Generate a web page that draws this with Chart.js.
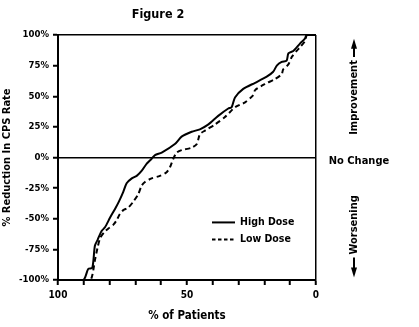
<!DOCTYPE html>
<html>
<head>
<meta charset="utf-8">
<script src="https://cdn.jsdelivr.net/npm/chart.js@4/dist/chart.umd.min.js"></script>
<style>
  html, body { margin: 0; padding: 0; background: #fff; }
  canvas { display: block; }
</style>
</head>
<body>
<canvas id="figure-chart" width="419" height="327"></canvas>
<script>
const chartTitle = 'Figure 2';
const xLabels = [100, 50, 0];
const seriesNames = ['High Dose', 'Low Dose'];

// % of patients (x) and % reduction in CPS rate (y)
const highDoseX = [100, 90.2, 88.3, 86.7, 85.7, 84.6, 83.1, 81.8, 79.8, 77.9, 76.4, 74.7, 73.4, 71.4, 69.5, 67.6, 65.6, 63.7, 62.4, 59.8, 54.7, 52.1, 48.2, 45, 41.7, 37.9, 34, 32.7, 31.4, 28.2, 23.6, 19.1, 16.6, 15.2, 13.3, 11.4, 10.7, 8.8, 6.2, 4.3, 3.6, 0];
const highDoseY = [-100, -100, -91, -90, -72, -67, -60, -57, -49, -42, -36, -28, -21, -17, -15, -11, -5, -1, 2, 4, 11, 17, 21, 23, 27, 34, 40, 41, 49, 56, 61, 66, 70, 75, 78, 79, 85, 87, 93, 97, 100, 100];
const lowDoseX = [100, 87.6, 86.7, 85.7, 84.6, 83.7, 82.1, 80.5, 78.6, 77.2, 76, 74.7, 72.8, 70.8, 68.9, 67.6, 66.3, 63.7, 60.5, 57.9, 56.6, 55.3, 54, 52.1, 48.2, 46.2, 45, 43, 39.1, 35.3, 31.4, 27.5, 24.3, 23.6, 19.8, 15.9, 13.3, 12.7, 10.7, 9.4, 7.5, 6.2, 4.3, 3.5, 0];
const lowDoseY = [-100, -100, -96, -84, -73, -66, -61, -58, -55, -51, -46, -43, -41, -36, -30, -23, -20, -17, -15, -12, -8, -1, 4, 6, 8, 11, 19, 22, 27, 33, 41, 45, 51, 55, 60, 64, 68, 72, 76, 82, 87, 90, 95, 100, 100];

const FONT = "'DejaVu Sans Condensed', 'Liberation Sans', sans-serif";
Chart.defaults.font.family = FONT;
Chart.defaults.font.weight = 'bold';
Chart.defaults.color = '#000';

function toPoints(xs, ys) {
    return xs.map((x, i) => ({ x: x, y: ys[i] }));
}

function arrow(ctx, x, y1, y2) {
    const dir = y2 < y1 ? -1 : 1;
    ctx.beginPath();
    ctx.moveTo(x, y1);
    ctx.lineTo(x, y2 - dir * 6);
    ctx.stroke();
    ctx.beginPath();
    ctx.moveTo(x, y2);
    ctx.lineTo(x - 3, y2 - dir * 10);
    ctx.lineTo(x + 3, y2 - dir * 10);
    ctx.closePath();
    ctx.fill();
}

function verticalText(ctx, text, x, y) {
    ctx.save();
    ctx.translate(x, y);
    ctx.rotate(-Math.PI / 2);
    ctx.fillText(text, 0, 0);
    ctx.restore();
    return ctx.measureText(text).width;
}

// legend inside the plot and the notes at the right
const annotations = {
    id: 'annotations',
    afterDraw(chart) {
        const ctx = chart.ctx;
        const area = chart.chartArea;
        const y = chart.scales.y;
        ctx.save();
        ctx.fillStyle = '#000';
        ctx.strokeStyle = '#000';

        // legend
        const lx = area.left + 154;
        chart.data.datasets.forEach((ds, i) => {
            const ly = y.getPixelForValue(-53) + i * 17;
            ctx.lineWidth = 2;
            ctx.setLineDash(ds.label === seriesNames[1] ? [3.5, 2.5] : []);
            ctx.beginPath();
            ctx.moveTo(lx, ly);
            ctx.lineTo(lx + 23, ly);
            ctx.stroke();
            ctx.setLineDash([]);
            ctx.font = 'bold 10.5px ' + FONT;
            ctx.textAlign = 'left';
            ctx.textBaseline = 'middle';
            ctx.fillText(ds.label, lx + 28, ly);
        });

        // right side notes
        const cx = area.right + 38;
        const y0 = y.getPixelForValue(0);
        ctx.font = 'bold 11px ' + FONT;
        ctx.textAlign = 'center';
        ctx.textBaseline = 'middle';
        ctx.fillText('No Change', cx + 5, y0 + 4);

        ctx.lineWidth = 2;
        const upY = y.getPixelForValue(49);
        const upW = verticalText(ctx, 'Improvement', cx, upY);
        arrow(ctx, cx, upY - upW / 2 - 3, y.getPixelForValue(97));

        const downY = y.getPixelForValue(-55);
        const downW = verticalText(ctx, 'Worsening', cx, downY);
        arrow(ctx, cx, downY + downW / 2 + 3, y.getPixelForValue(-98));
        ctx.restore();
    }
};

new Chart(document.getElementById('figure-chart'), {
    type: 'line',
    data: {
        datasets: [
            {
                label: seriesNames[0],
                data: toPoints(highDoseX, highDoseY),
                borderColor: '#000',
                borderWidth: 2,
                pointRadius: 0,
                tension: 0.25
            },
            {
                label: seriesNames[1],
                data: toPoints(lowDoseX, lowDoseY),
                borderColor: '#000',
                borderWidth: 2,
                borderDash: [5, 3.5],
                pointRadius: 0,
                tension: 0.25
            }
        ]
    },
    options: {
        responsive: false,
        animation: false,
        layout: { padding: { left: 0, right: 103, top: 0, bottom: 0 } },
        plugins: {
            legend: { display: false },
            tooltip: { enabled: false },
            title: {
                display: true,
                text: chartTitle,
                font: { size: 12.5, weight: 'bold' },
                padding: { top: 7, bottom: 13 }
            }
        },
        scales: {
            x: {
                type: 'linear',
                reverse: true,
                min: 0,
                max: 100,
                afterFit: scale => { scale.height = 47; },
                ticks: {
                    stepSize: 10,
                    autoSkip: false,
                    maxRotation: 0,
                    padding: 4,
                    font: { size: 10, weight: 'bold' },
                    callback: v => xLabels.includes(v) ? String(v) : ''
                },
                grid: {
                    color: c => (c.tick && c.tick.value === 0) ? '#000' : 'transparent',
                    lineWidth: 1.5,
                    tickColor: '#000',
                    tickWidth: 2,
                    tickLength: 5
                },
                border: { display: true, color: '#000', width: 2 },
                title: {
                    display: true,
                    text: '% of Patients',
                    font: { size: 11.5, weight: 'bold' },
                    padding: { top: 0, bottom: 4 }
                }
            },
            y: {
                min: -100,
                max: 100,
                afterFit: scale => { scale.width = 58; },
                ticks: {
                    stepSize: 25,
                    padding: 4,
                    font: { size: 9.5, weight: 'bold' },
                    callback: v => v + '%'
                },
                grid: {
                    color: c => (c.tick && (c.tick.value === 0 || c.tick.value === 100)) ? '#000' : 'transparent',
                    lineWidth: 1.5,
                    tickColor: '#000',
                    tickWidth: 2,
                    tickLength: 5
                },
                border: { display: true, color: '#000', width: 2 },
                title: {
                    display: true,
                    text: '% Reduction In CPS Rate',
                    font: { size: 11, weight: 'bold' },
                    padding: { top: 1, bottom: 0 }
                }
            }
        }
    },
    plugins: [annotations]
});
</script>
</body>
</html>
